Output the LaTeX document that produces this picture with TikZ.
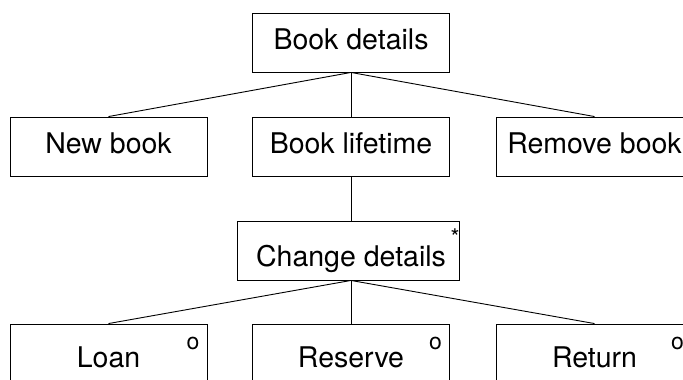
\documentclass[tikz,border=0pt]{standalone}
\usepackage{fontspec}
\setmainfont{TeX Gyre Heros}
\begin{document}
\begin{tikzpicture}[x=1pt,y=-1pt,
  box/.style={draw=black,line width=0.9pt,rectangle,inner sep=0pt,minimum height=59pt},
  nbox/.style={box,minimum width=197pt},
  wbox/.style={box,minimum width=222pt},
  lbl/.style={inner sep=0pt,anchor=base,font=\fontsize{28.5}{34}\selectfont},
  marker/.style={inner sep=0pt,anchor=base,font=\fontsize{23}{27}\selectfont},
  conn/.style={line width=0.9pt,draw=black}]
\useasboundingbox (0,0) rectangle (683,380);
\clip (0,0) rectangle (683,380);
% boxes
\node[nbox] (bd) at (351,42.5) {};
\node[nbox] (nb) at (108.5,146.5) {};
\node[nbox] (bl) at (351,146.5) {};
\node[nbox] (rb) at (594.5,146.5) {};
\node[wbox] (cd) at (348,250.5) {};
\node[nbox] (lo) at (108.5,353.5) {};
\node[nbox] (re) at (351,353.5) {};
\node[nbox] (rt) at (594.5,353.5) {};
% labels
\node[lbl] (tbd) at (351,49.5) {Book details};
\node[lbl] (tnb) at (108.5,153.3) {New book};
\node[lbl] (tbl) at (351,153.3) {Book lifetime};
\node[lbl] (trb) at (594.5,153.3) {Remove book};
\node[lbl] (tcd) at (351,266.7) {Change details};
\node[lbl] (tlo) at (108.5,367) {Loan};
\node[lbl] (tre) at (351,367) {Reserve};
\node[lbl] (trt) at (594.5,367) {Return};
% markers
\node[marker] (scd) at (455,245) {*};
\node[marker] (mlo) at (193,349.5) {o};
\node[marker] (mre) at (435.5,349.5) {o};
\node[marker] (mrt) at (677.5,349.5) {o};
% connectors
\coordinate (cdtop) at (bl.south |- cd.north);
\coordinate (cdbot) at (bl.south |- cd.south);
\draw[conn] (bd.south) -- (nb.north);
\draw[conn] (bd.south) -- (bl.north);
\draw[conn] (bd.south) -- (rb.north);
\draw[conn] (bl.south) -- (cdtop);
\draw[conn] (cdbot) -- (lo.north);
\draw[conn] (cdbot) -- (re.north);
\draw[conn] (cdbot) -- (rt.north);
\end{tikzpicture}
\end{document}
